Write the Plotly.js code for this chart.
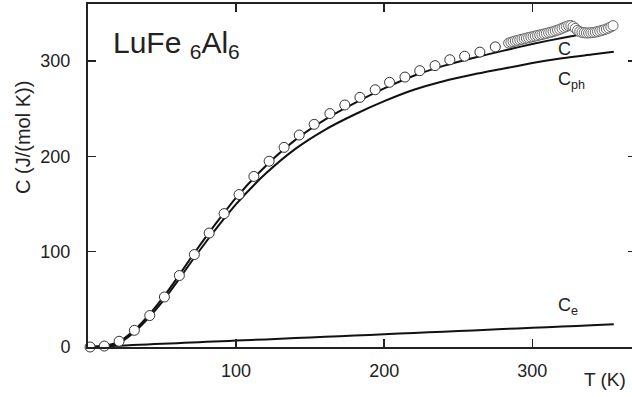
<!DOCTYPE html>
<html>
<head>
<meta charset="utf-8">
<script src="https://cdn.plot.ly/plotly-3.0.1.min.js"></script>
<style>
html,body{margin:0;padding:0;overflow:hidden;background:#fff;}
#chart{width:640px;height:397px;}
</style>
</head>
<body>
<div id="chart"></div>
<script>
// Measured data (T in K, C in J/(mol K))
const tMeas = [1.4, 11, 21, 31.3, 41.7, 51.6, 61.7, 71.8, 81.8, 91.9, 102, 112, 122.3, 132.4, 142.6, 152.7, 163.3, 173.4, 183.6, 193.9, 203.6, 214, 224, 234.3, 244.3, 254.3, 264.6, 275];
const cMeas = [0, 1, 6, 17.5, 33, 52.5, 75, 97, 119.6, 140, 160, 179, 195, 209.5, 222.5, 233.7, 245, 254, 262, 270, 277.8, 283.3, 290, 295.3, 301.5, 305.2, 309.5, 315];
// Dense measured data near room temperature
const tDense = [284, 285.5, 287, 288.5, 290, 291.5, 293, 294.5, 296, 297.5, 299, 300.5, 302, 303.5, 305, 306.5, 308, 309.5, 311, 312.5, 314, 315.5, 317, 318.5, 320, 321.5, 323, 324.5, 326, 327.5, 329, 330.5, 332, 333.5, 335, 336.5, 338, 339.5, 341, 342.5, 344, 345.5, 347, 348.5, 350, 351.5, 353, 354.5];
const cDense = [319, 319.8, 320.5, 321.2, 321.8, 322.4, 323, 323.6, 324.2, 324.7, 325.3, 325.8, 326.4, 327, 327.5, 328, 328.6, 329.2, 329.8, 330.4, 331, 331.8, 332.6, 333.4, 334.4, 335.4, 336.4, 337.2, 337.4, 336.4, 334.4, 332.4, 331, 330.2, 329.8, 329.6, 329.6, 329.8, 330.1, 330.5, 331, 331.6, 332.3, 333, 333.8, 334.8, 336, 337.3];
// Fit curves
const tFit = [0, 10, 20, 30, 40, 50, 60, 70, 80, 90, 100, 120, 140, 160, 180, 200, 220, 240, 260, 280, 300, 320, 340, 355];
const cPh  = [0, 0.3, 3.5, 14, 29, 47, 68, 90, 111, 131, 150, 182, 208, 228, 244, 258, 270, 279, 286, 292, 298, 303, 307, 310];
const cE   = [0, 0.7, 1.3, 2, 2.7, 3.4, 4, 4.7, 5.4, 6, 6.7, 8, 9.4, 10.7, 12, 13.4, 14.7, 16.1, 17.4, 18.8, 20.1, 21.4, 22.8, 23.8];
const cTot = [0, 1, 4.8, 16, 31.7, 50.4, 72, 94.7, 116.4, 137, 156.7, 190, 217.4, 238.7, 256, 271.4, 284.7, 295.1, 303.4, 310.8, 318.1, 324.4, 329.8, 333.8];
const xTicks = [100, 200, 300];
const yTicks = [0, 100, 200, 300];

const FONT = 'Liberation Sans, Arial, sans-serif';
const INK = '#222';
const L = 88, T = 4, R = 4, B = 50, W = 640, H = 397;
const pw = W - L - R, ph = H - T - B;
const px = x => (x - L) / pw;
const py = y => (H - B - y) / ph;

const lineStyle = {color: '#111', width: 2, shape: 'spline', smoothing: 0.6};
const traces = [
  {x: tFit, y: cE, mode: 'lines', line: lineStyle, hoverinfo: 'skip'},
  {x: tFit, y: cPh, mode: 'lines', line: lineStyle, hoverinfo: 'skip'},
  {x: tFit, y: cTot, mode: 'lines', line: lineStyle, hoverinfo: 'skip'},
  {x: tMeas, y: cMeas, mode: 'markers', cliponaxis: false,
   marker: {symbol: 'circle', size: 10, color: '#fff', line: {color: '#333', width: 1}}},
  {x: tDense, y: cDense, mode: 'markers', cliponaxis: false,
   marker: {symbol: 'circle', size: 10, color: '#fff', line: {color: '#666', width: 1}}}
];

const ann = (text, x, y, xa, ya, size, extra) => Object.assign({
  text: text, xref: 'paper', yref: 'paper', x: px(x), y: py(y),
  xanchor: xa, yanchor: ya, showarrow: false,
  font: {family: FONT, size: size, color: INK}, borderpad: 0
}, extra || {});

const layout = {
  width: W, height: H,
  margin: {l: L, r: R, t: T, b: B},
  paper_bgcolor: '#fff', plot_bgcolor: '#fff',
  showlegend: false,
  font: {family: FONT, color: INK},
  xaxis: {
    range: [0, 370], tickvals: xTicks, ticktext: xTicks.map(String),
    ticks: 'inside', ticklen: 8, tickwidth: 1.5, tickcolor: '#222',
    showline: true, linecolor: '#222', linewidth: 2, mirror: 'ticks',
    showgrid: false, zeroline: false,
    tickfont: {family: FONT, size: 18, color: INK}, ticklabelstandoff: 6
  },
  yaxis: {
    range: [0, 360], tickvals: yTicks, ticktext: yTicks.map(String),
    ticks: 'inside', ticklen: 8, tickwidth: 1.5, tickcolor: '#222',
    showline: true, linecolor: '#222', linewidth: 2, mirror: 'ticks',
    showgrid: false, zeroline: false,
    tickfont: {family: FONT, size: 18, color: INK}, ticklabelstandoff: 12
  },
  annotations: [
    ann('C (J/(mol K))', 23, 138, 'center', 'middle', 20, {textangle: -90}),
    ann('T (K)', 605, 380, 'center', 'middle', 19),
    ann('LuFe <sub>6</sub>Al<sub>6</sub>', 112, 44, 'left', 'middle', 30),
    ann('C', 557, 49, 'left', 'middle', 18),
    ann('C<sub>ph</sub>', 557, 80, 'left', 'middle', 18),
    ann('C<sub>e</sub>', 557, 306, 'left', 'middle', 18)
  ]
};

Plotly.newPlot('chart', traces, layout, {displayModeBar: false, staticPlot: true});
</script>
</body>
</html>
